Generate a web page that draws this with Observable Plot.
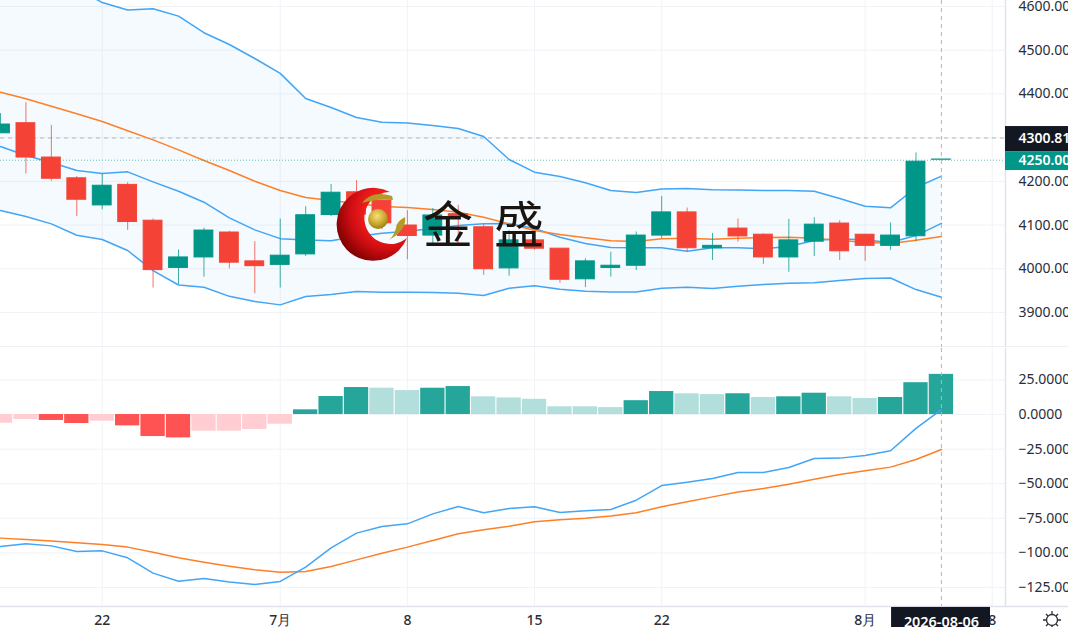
<!DOCTYPE html>
<html><head><meta charset="utf-8">
<script src="https://cdn.jsdelivr.net/npm/d3@7"></script>
<script src="https://cdn.jsdelivr.net/npm/@observablehq/plot@0.6"></script>
<style>
html,body{margin:0;padding:0;background:#fff;overflow:hidden}
#wrap{position:relative;width:1068px;height:627px;overflow:hidden}
#wrap>svg{position:absolute;left:0}
</style></head><body><div id="wrap"></div>
<script>
const opens=[4310,4333,4254.5,4207,4145,4192,4110,4002,4026,4083,4017,4009,4033,4123,4175,4156,4099,4076,4125,4095,4001,4065,4046,3976,4002,4007,4076,4129,4047,4092,4078,4026,4062,4103.5,4078,4052.5,4074.5,4249.5];
const closes=[4330,4254.5,4206,4158,4190,4107,3997,4026,4087.5,4014,4006,4030,4122.5,4174,4124,4104,4075,4122,4118,3999,4065,4046,3975,4017,4007,4076,4129,4047,4052.5,4074,4026,4065,4101,4040,4052.5,4076,4245,4250];
const highs=[4355,4380,4328,4211,4217,4197,4114,4043,4093,4086,4062,4114,4142,4193,4202,4179,4133,4138,4145,4101,4087.5,4068,4046,4023,4038,4084,4165,4139,4081,4114,4080,4113,4117,4110,4078,4105,4265,4250];
const lows=[4310,4217,4200,4119.5,4135,4088,3956,3964,3981,4000,3943,3956,4028,4119.5,4115,4090,4020.5,4053,4058,3985,3983,4042,3967,3957,3981,3996,4069,4038,4019,4061,4010,3992,4028,4019,4017,4042,4062,4249.5];
const bbUpper=[4751,4717,4682,4641,4609,4592,4595,4578,4540,4513,4481,4447,4389.5,4369,4346,4335,4333.5,4328,4321,4302.6,4250,4221,4211,4197,4179,4174.4,4182.4,4183.6,4181,4180,4179,4179,4177.4,4161,4143,4139.5,4186,4212];
const bbBasis=[4279.7,4259,4243,4224.8,4218,4221.8,4198.9,4177.4,4152.3,4116.6,4089,4069,4066,4064,4073.8,4081.3,4086,4092,4099,4102.8,4103.5,4092,4072,4057.8,4048.6,4048,4048,4040,4048,4048,4046,4051,4064.6,4069,4066,4060,4076,4104];
const bbLower=[4133.3,4119.5,4102.8,4076.8,4067,4041.8,3996,3963,3957.8,3937,3925,3917.5,3936.5,3941,3948,3946.4,3946.4,3945.7,3944,3938.8,3955.5,3961,3953,3948.6,3947,3947,3955.5,3957.8,3954.8,3960,3964,3967,3968,3973,3978,3979,3952.5,3935];
const maLine=[4403.9,4388.8,4371.9,4354.5,4336.9,4315.6,4295,4272,4247.6,4224.8,4200.3,4179,4163,4156,4149.3,4142.4,4140,4135.5,4129.4,4118,4102.8,4087.5,4078.4,4070.8,4064,4062.4,4068.5,4070,4067.6,4070,4071.5,4072,4070,4064.6,4060.7,4057.8,4065.3,4073.8];
const hist=[-6.3,-3.6,-4.3,-6.5,-4.8,-8.2,-15.9,-16.9,-12,-12,-10.8,-7,3.4,13,19.5,19,17.3,19,20.2,12.8,12,11,5.6,5.6,5,10,16.6,15,14.4,15,12.3,12.8,15.4,12.8,11.6,12.3,23,29];
const macd=[-95.4,-93.4,-94.9,-99,-98.5,-103.5,-114.6,-120.4,-118.5,-121,-122.8,-120.6,-110.3,-96.3,-85.7,-80.9,-79,-71.8,-66.5,-71,-67.9,-66.7,-70.8,-69.6,-68.6,-61.9,-51.3,-49,-46.2,-41.9,-41.9,-38.3,-31.8,-31.5,-29.6,-26.2,-10,3.6];
const signal=[-89.3,-90.3,-91.3,-92.7,-93.9,-95.8,-99.5,-103.5,-106.7,-109.6,-112.2,-113.9,-113.4,-109.8,-105,-100.2,-95.8,-91,-86.2,-83.3,-80.7,-77.5,-76,-75,-73.4,-71,-66.7,-63,-59.5,-56,-53.5,-50.3,-46.7,-43.3,-40.7,-38,-32.5,-25.3];
const xTickIdx=[4,11,16,21,26,34,39];
const xTickText=["22","7月","8","15","22","8月","8"];
const priceTicks=[4600,4500,4400,4300,4200,4100,4000,3900];
const priceLabels=[4600,4500,4400,4200,4100,4000,3900];
const macdTicks=[25,0,-25,-50,-75,-100,-125];
const crossIdx=37, crossPrice=4300.81, lastPrice=4250, crossDate="2026-08-06";
const bars=d3.range(opens.length);

const UP="#009688",DOWN="#f44336",BLUE="#42a5f5",ORANGE="#ff7f27",GRID="#f1f3f8",BORDER="#e0e3eb",DARK="#131722",TXT="#2a2e39";
const xDom=[0,39.52], xRange=[0,1005], xEnd=42;
const F="Noto Sans, sans-serif";
const series=(a)=>bars.map(i=>({i,v:a[i]}));

const top1=Plot.plot({
  width:1068,height:347,marginTop:0,marginBottom:0,marginLeft:0,marginRight:63,
  style:{background:"transparent",fontFamily:F},
  x:{type:"linear",domain:xDom,range:xRange,axis:null},
  y:{domain:[3820,4613.7],axis:null},
  marks:[
    Plot.gridX(xTickIdx,{stroke:GRID,strokeOpacity:1}),
    Plot.gridY(priceTicks,{stroke:GRID,strokeOpacity:1}),
    Plot.areaY(bars,{x:i=>i,y1:i=>bbUpper[i],y2:i=>bbLower[i],fill:"#2196f3",fillOpacity:0.05,curve:"linear"}),
    Plot.line(series(bbUpper),{x:"i",y:"v",stroke:BLUE,strokeWidth:1.5}),
    Plot.line(series(bbBasis),{x:"i",y:"v",stroke:BLUE,strokeWidth:1.5}),
    Plot.line(series(bbLower),{x:"i",y:"v",stroke:BLUE,strokeWidth:1.5}),
    Plot.line(series(maLine),{x:"i",y:"v",stroke:ORANGE,strokeWidth:1.5}),
    Plot.ruleY([crossPrice],{stroke:"#b2b5be",strokeDasharray:"4 4",strokeWidth:1,dy:0.7}),
    Plot.ruleY([lastPrice],{stroke:UP,strokeOpacity:.6,strokeDasharray:"1 2",strokeWidth:1,dy:0.7}),
    Plot.ruleX(bars,{x:i=>i,y1:i=>lows[i],y2:i=>highs[i],stroke:i=>closes[i]>=opens[i]?UP:DOWN,strokeOpacity:.75,strokeWidth:1}),
    Plot.rect(bars,{x1:i=>i-.37,x2:i=>i+.37,y1:i=>opens[i],y2:i=>closes[i],fill:i=>closes[i]>=opens[i]?UP:DOWN,stroke:i=>closes[i]>=opens[i]?UP:DOWN,strokeWidth:1}),
    Plot.ruleX([crossIdx],{stroke:"#b2b5be",strokeDasharray:"4 4",strokeWidth:1}),
    Plot.ruleX([xDom[1]],{stroke:BORDER,strokeWidth:1.5}),
    Plot.axisY({anchor:"right",label:null,ticks:priceLabels,tickSize:0,tickPadding:13,tickFormat:d3.format(".2f"),fontSize:14,fill:TXT,stroke:"none"}),
    Plot.rect([0],{x1:xDom[1],x2:xEnd,y1:4325.4,y2:4268,fill:DARK}),
    Plot.rect([0],{x1:xDom[1],x2:xEnd,y1:4268,y2:4224.8,fill:UP}),
    Plot.text([crossPrice],{x:40.03,y:d=>d,dy:1,text:d=>d.toFixed(2),textAnchor:"start",fill:"#fff",fontSize:14,fontWeight:600}),
    Plot.text([lastPrice],{x:40.03,y:d=>d,dy:1,text:d=>d.toFixed(2),textAnchor:"start",fill:"#fff",fontSize:14,fontWeight:600}),
    Plot.ruleY([3820],{stroke:BORDER,strokeWidth:2,x1:0,x2:xEnd})
  ]
});
top1.style.top="0px";

const prev=i=>i>0?hist[i-1]:hist[i];
const histColor=i=>hist[i]>=0?(hist[i]>prev(i)?"#26a69a":"#b2dfdb"):(hist[i]>=prev(i)?"#ffcdd2":"#ff5252");
const bot=Plot.plot({
  width:1068,height:279,marginTop:0,marginBottom:21,marginLeft:0,marginRight:63,
  style:{background:"transparent",fontFamily:F},
  x:{type:"linear",domain:xDom,range:xRange,axis:null},
  y:{domain:[-138.7,47.7],axis:null},
  marks:[
    Plot.gridX(xTickIdx,{stroke:GRID,strokeOpacity:1}),
    Plot.gridY(macdTicks,{stroke:GRID,strokeOpacity:1}),
    Plot.rectY(bars,{x1:i=>i-.478,x2:i=>i+.478,y1:0,y2:i=>hist[i],fill:histColor}),
    Plot.line(series(signal),{x:"i",y:"v",stroke:ORANGE,strokeWidth:1.5}),
    Plot.line(series(macd),{x:"i",y:"v",stroke:BLUE,strokeWidth:1.5}),
    Plot.ruleX([crossIdx],{stroke:"#b2b5be",strokeDasharray:"4 4",strokeWidth:1}),
    Plot.ruleX([xDom[1]],{stroke:BORDER,strokeWidth:1.5}),
    Plot.ruleY([-138.7],{stroke:BORDER,strokeWidth:1.5,x1:0,x2:xEnd}),
    Plot.axisY({anchor:"right",label:null,ticks:macdTicks,tickSize:0,tickPadding:13,tickFormat:d3.format(".4f"),fontSize:14,fill:TXT,stroke:"none"}),
    Plot.axisX({anchor:"bottom",label:null,ticks:xTickIdx,tickSize:0,tickPadding:9,tickFormat:d=>xTickText[xTickIdx.indexOf(d)],fontSize:14,fontWeight:500,fill:TXT,stroke:"none"}),
    Plot.rect([0],{x1:35.04,x2:38.93,y1:-139.4,y2:-155,fill:DARK}),
    Plot.text([crossDate],{x:crossIdx,y:-150,text:d=>d,fill:"#fff",fontSize:14.4,fontWeight:600})
  ]
});
bot.style.top="348px";

const wrap=document.getElementById("wrap");
wrap.append(top1,bot);
wrap.insertAdjacentHTML("beforeend",`
<svg width="1068" height="627" style="top:0;pointer-events:none" xmlns="http://www.w3.org/2000/svg">
 <defs>
  <radialGradient id="rg" gradientUnits="userSpaceOnUse" cx="388" cy="212" r="62">
   <stop offset="0.4" stop-color="#ee1c1c"/><stop offset="0.62" stop-color="#cc0d12"/><stop offset="0.85" stop-color="#8a0303"/><stop offset="1" stop-color="#6d0000"/>
  </radialGradient>
  <radialGradient id="gold" cx="0.45" cy="0.35" r="0.7">
   <stop offset="0" stop-color="#f5e27a"/><stop offset="0.6" stop-color="#c8a52a"/><stop offset="1" stop-color="#8f7414"/>
  </radialGradient>
 </defs>
 <path fill="url(#rg)" d="M390 192 A36.5 36.5 0 1 0 407 238 A26 26 0 1 1 390 192Z"/>
 <path fill="#b59a28" d="M362 203 Q372 190 392 196 L393 200 Q378 198 362 203Z"/>
 <path fill="#b59a28" d="M389 240 Q407 230 405 217 Q396 222 396 228 Q394 236 389 240Z"/>
 <circle cx="378" cy="219" r="10" fill="url(#gold)"/>
 <g font-family="Noto Sans CJK SC" font-size="50" font-weight="400" fill="#1b1512">
  <text x="423" y="243">金</text><text x="494" y="243">盛</text>
 </g>
 <g stroke="#2a2e39" stroke-width="1.3" fill="none">
  <circle cx="1052" cy="620" r="5.5"/>
  <path d="M1052 611v3M1052 626v3M1043 620h3M1058 620h3M1046 614l2 2M1056 624l2 2M1058 614l-2 2M1048 624l-2 2"/>
 </g>
</svg>`);
</script></body></html>
